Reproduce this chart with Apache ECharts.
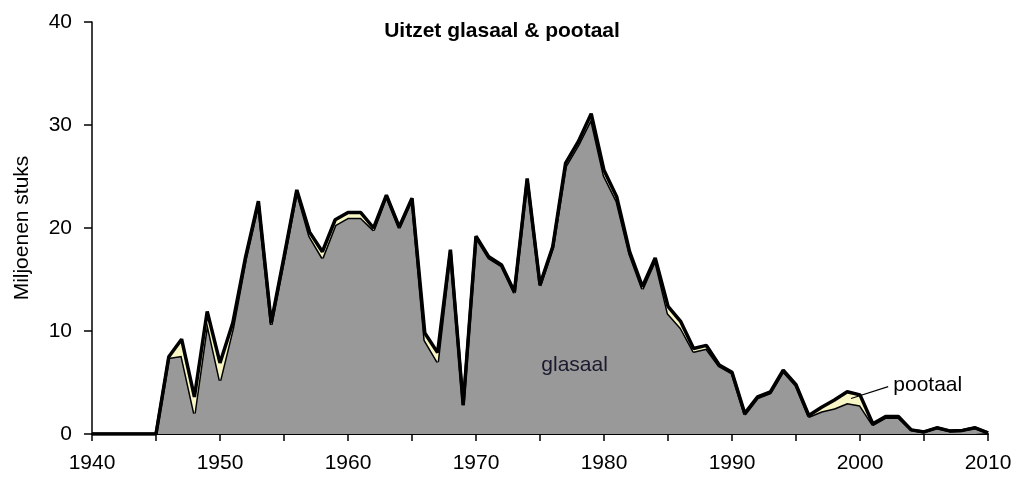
<!DOCTYPE html>
<html>
<head>
<meta charset="utf-8">
<script src="https://cdn.jsdelivr.net/npm/echarts@6/dist/echarts.min.js"></script>
<style>
html,body{margin:0;padding:0;background:#fff;}
#c{width:1017px;height:480px;}
</style>
</head>
<body>
<div id="c"></div>
<script>
const years = [1940,1941,1942,1943,1944,1945,1946,1947,1948,1949,1950,1951,1952,1953,1954,1955,1956,1957,1958,1959,1960,1961,1962,1963,1964,1965,1966,1967,1968,1969,1970,1971,1972,1973,1974,1975,1976,1977,1978,1979,1980,1981,1982,1983,1984,1985,1986,1987,1988,1989,1990,1991,1992,1993,1994,1995,1996,1997,1998,1999,2000,2001,2002,2003,2004,2005,2006,2007,2008,2009,2010];
const glasaal = [0,0,0,0,0,0,7.4,7.6,2.0,10.8,5.2,10.3,17.0,22.4,10.6,17.0,23.6,19.2,17.1,20.3,21.0,21.0,19.8,23.1,20.0,22.8,9.1,7.0,17.8,2.8,19.1,17.1,16.3,13.7,24.7,14.4,18.1,26.0,28.1,30.6,25.1,22.6,17.5,14.1,16.9,11.7,10.3,8.0,8.3,6.6,5.9,1.9,3.5,4.0,6.1,4.7,1.7,2.2,2.5,3.0,2.8,0.9,1.6,1.6,0.4,0.2,0.6,0.3,0.35,0.6,0.1];
const pootaal = [0,0,0,0,0,0,0.1,1.6,1.6,1.1,1.7,0.5,0.2,0.2,0.2,0.2,0.1,0.4,0.6,0.5,0.5,0.5,0.2,0.1,0.1,0.1,0.7,0.9,0.1,0,0.1,0.1,0.1,0.1,0.1,0.1,0.1,0.3,0.3,0.5,0.5,0.4,0.2,0.2,0.2,0.7,0.6,0.3,0.3,0.1,0.1,0.1,0.1,0.1,0.1,0.1,0.1,0.4,0.8,1.1,1.0,0.1,0.1,0.1,0,0,0,0,0,0,0];
const yTicks = [0,10,20,30,40];

const FONT = '"Liberation Sans", Arial, sans-serif';
const chart = echarts.init(document.getElementById('c'), null, {renderer:'canvas'});

chart.setOption({
  animation:false,
  backgroundColor:'#fff',
  title:{
    text:'Uitzet glasaal & pootaal',
    left:502, top:21, textAlign:'center', padding:0,
    textStyle:{fontFamily:FONT, fontSize:21, fontWeight:'bold', color:'#000'}
  },
  grid:{left:92, right:29, top:22, bottom:46, containLabel:false},
  xAxis:{
    type:'category', data:years.map(String), boundaryGap:false,
    axisLine:{show:true, onZero:false, lineStyle:{color:'#000', width:2}},
    axisTick:{show:true, length:7, lineStyle:{color:'#000', width:1.5},
      interval:function(i, v){ return Number(v) % 5 === 0; }},
    splitLine:{show:false},
    axisLabel:{
      margin:19, color:'#000', fontFamily:FONT, fontSize:21,
      interval:function(i, v){ return Number(v) % 10 === 0; }
    }
  },
  yAxis:{
    type:'value', min:yTicks[0], max:yTicks[yTicks.length-1], interval:10,
    name:'Miljoenen stuks', nameLocation:'middle', nameRotate:90, nameGap:59,
    nameTextStyle:{fontFamily:FONT, fontSize:21, color:'#000'},
    axisLine:{show:true, lineStyle:{color:'#000', width:1.5}},
    axisTick:{show:true, length:8, lineStyle:{color:'#000', width:1.5}},
    splitLine:{show:false},
    axisLabel:{margin:20, color:'#000', fontFamily:FONT, fontSize:21}
  },
  series:[
    {
      name:'glasaal', type:'line', stack:'total', data:glasaal,
      symbol:'none', z:2,
      lineStyle:{color:'#000', width:3},
      areaStyle:{color:'#999999', opacity:1}
    },
    {
      name:'pootaal', type:'line', stack:'total', data:pootaal,
      symbol:'none', z:3,
      lineStyle:{color:'#000', width:3.5},
      areaStyle:{color:'#F8F6C4', opacity:1}
    }
  ]
});

function px(yearFrac, v){
  const i0 = Math.floor(yearFrac - years[0]);
  const f = (yearFrac - years[0]) - i0;
  const a = chart.convertToPixel({xAxisIndex:0, yAxisIndex:0}, [i0, v]);
  const b = chart.convertToPixel({xAxisIndex:0, yAxisIndex:0}, [i0 + 1, v]);
  return [a[0] + (b[0]-a[0])*f, a[1]];
}
const gl = px(1977.7, 6.7);
const pt = px(2002.6, 4.75);
const l1 = px(1999.3, 3.45);
const l2 = px(2002.2, 4.6);
chart.setOption({
  graphic:[
    {type:'text', x:gl[0], y:gl[1], z:10, style:{text:'glasaal', fill:'#1a1a2e', font:'21px ' + FONT, textAlign:'center', textVerticalAlign:'middle'}},
    {type:'text', x:pt[0], y:pt[1], z:10, style:{text:'pootaal', fill:'#000', font:'21px ' + FONT, textAlign:'left', textVerticalAlign:'middle'}},
    {type:'line', z:10, shape:{x1:l1[0], y1:l1[1], x2:l2[0], y2:l2[1]}, style:{stroke:'#000', lineWidth:1.2}}
  ]
});
</script>
</body>
</html>
